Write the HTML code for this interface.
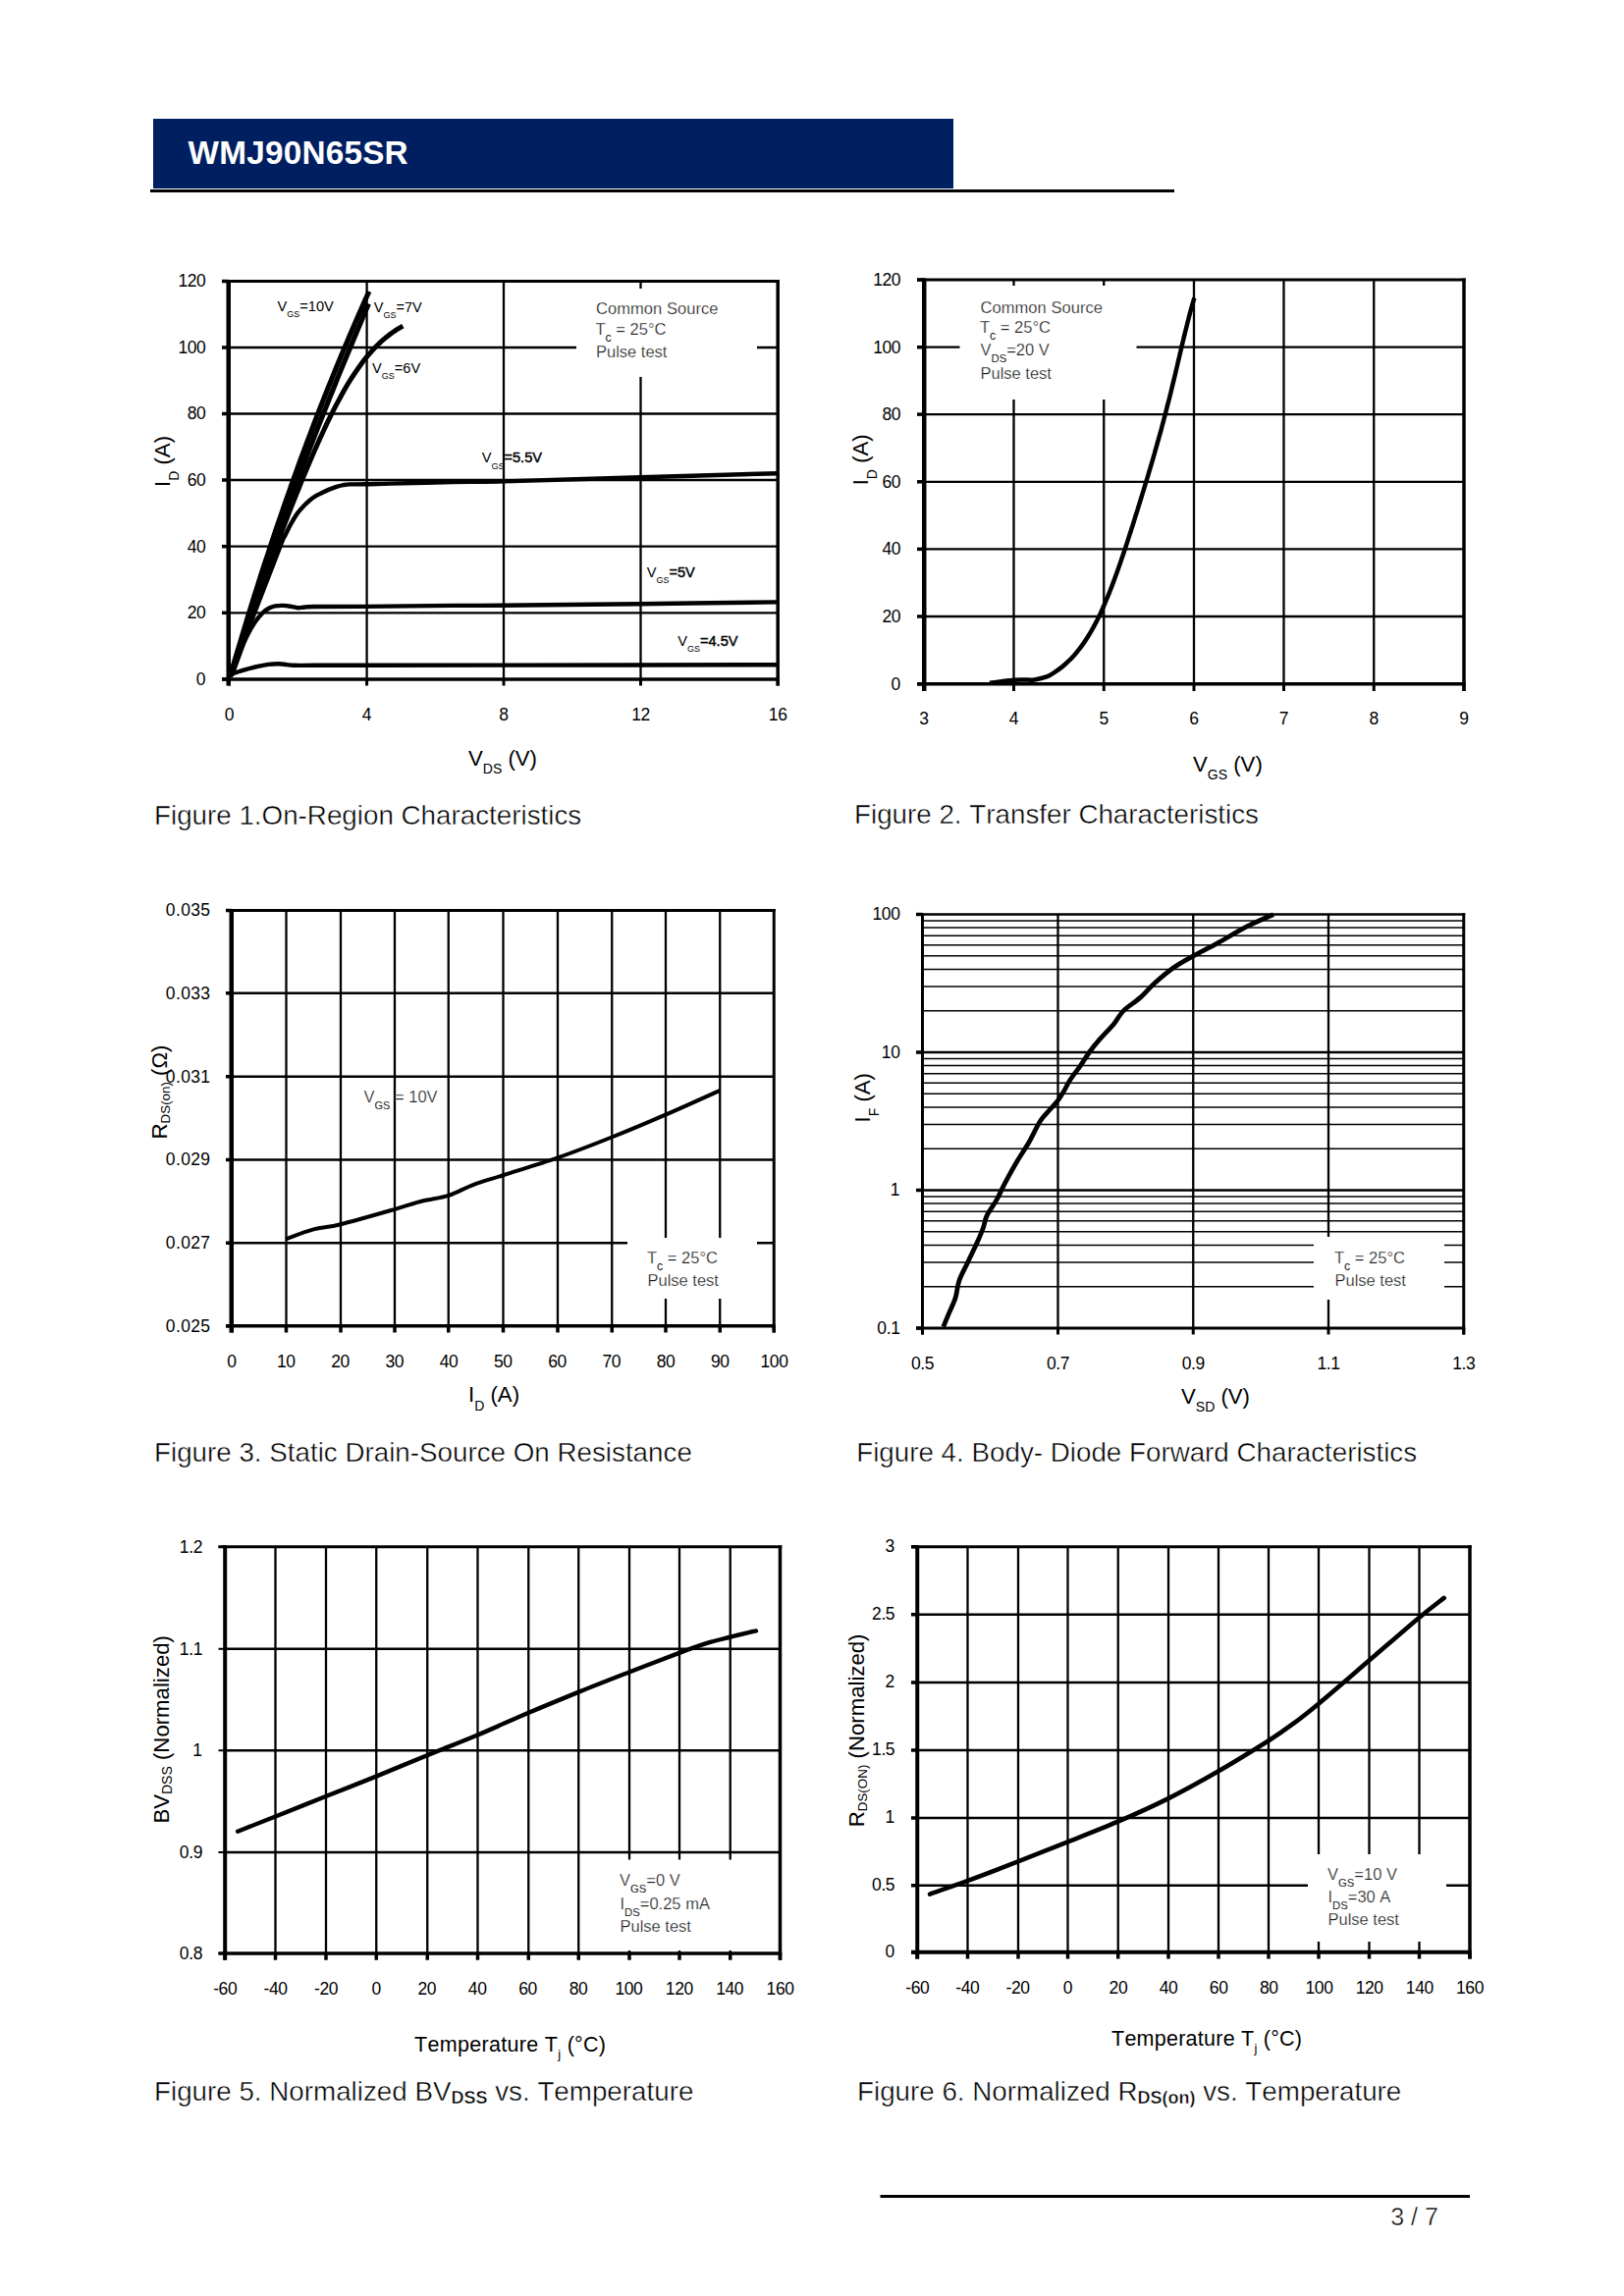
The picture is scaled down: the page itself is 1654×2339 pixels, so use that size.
<!DOCTYPE html>
<html lang="en"><head><meta charset="utf-8"><title>WMJ90N65SR</title>
<style>html,body{margin:0;padding:0;background:#fff;}svg{display:block;}text{font-family:"Liberation Sans",sans-serif;white-space:pre;font-kerning:none;font-variant-ligatures:none;}.t{stroke:#fff;stroke-width:0.45px;}.u{stroke:#fff;stroke-width:0.25px;}</style></head>
<body>
<svg width="1654" height="2339" viewBox="0 0 1654 2339" font-family='"Liberation Sans", sans-serif'>
<rect x="0.00" y="0.00" width="1654.00" height="2339.00" fill="#fff"/>
<rect x="156.00" y="121.00" width="815.00" height="71.00" fill="#001f60"/>
<line x1="153.00" y1="194.50" x2="1196.00" y2="194.50" stroke="#000" stroke-width="3" stroke-linecap="butt"/>
<text x="191.60" y="167.00" font-size="33.3" text-anchor="start" font-weight="bold" fill="#fff" letter-spacing="0.22">WMJ90N65SR</text>
<line x1="896.50" y1="2237.50" x2="1497.00" y2="2237.50" stroke="#000" stroke-width="3" stroke-linecap="butt"/>
<text class="t" x="1440.50" y="2267.00" font-size="25" text-anchor="middle" font-weight="normal" fill="#000">3 / 7</text>
<line x1="373.60" y1="286.50" x2="373.60" y2="691.90" stroke="#000" stroke-width="2.3" stroke-linecap="butt"/>
<line x1="513.00" y1="286.50" x2="513.00" y2="691.90" stroke="#000" stroke-width="2.3" stroke-linecap="butt"/>
<line x1="652.50" y1="286.50" x2="652.50" y2="691.90" stroke="#000" stroke-width="2.3" stroke-linecap="butt"/>
<line x1="232.75" y1="354.00" x2="792.20" y2="354.00" stroke="#000" stroke-width="2.3" stroke-linecap="butt"/>
<line x1="232.75" y1="421.50" x2="792.20" y2="421.50" stroke="#000" stroke-width="2.3" stroke-linecap="butt"/>
<line x1="232.75" y1="489.00" x2="792.20" y2="489.00" stroke="#000" stroke-width="2.3" stroke-linecap="butt"/>
<line x1="232.75" y1="556.70" x2="792.20" y2="556.70" stroke="#000" stroke-width="2.3" stroke-linecap="butt"/>
<line x1="232.75" y1="624.30" x2="792.20" y2="624.30" stroke="#000" stroke-width="2.3" stroke-linecap="butt"/>
<rect x="587.00" y="294.00" width="184.00" height="90.00" fill="#fff"/>
<path d="M234.5,688.8 L236.5,682.0 L238.4,675.2 L240.4,668.4 L242.4,661.7 L244.5,654.9 L246.5,648.1 L248.5,641.4 L250.6,634.6 L252.6,627.8 L254.7,621.1 L256.8,614.3 L258.9,607.6 L261.1,600.8 L263.2,594.1 L265.3,587.4 L267.5,580.6 L269.7,573.9 L271.9,567.2 L274.1,560.5 L276.3,553.8 L278.6,547.1 L280.8,540.4 L283.1,533.7 L285.4,527.0 L287.7,520.3 L290.0,513.6 L292.3,507.0 L294.7,500.3 L297.0,493.6 L299.4,487.0 L301.8,480.3 L304.2,473.7 L306.6,467.0 L309.1,460.4 L311.5,453.8 L314.0,447.2 L316.5,440.6 L319.0,434.0 L321.5,427.4 L324.1,420.8 L326.6,414.2 L329.2,407.6 L331.8,401.0 L334.4,394.5 L337.1,387.9 L339.7,381.4 L342.4,374.8 L345.1,368.3 L347.8,361.8 L350.5,355.2 L353.3,348.7 L356.0,342.2 L358.8,335.7 L361.6,329.2 L364.4,322.7 L367.3,316.3 L370.1,309.8 L373.0,303.3 L375.9,296.9" fill="none" stroke="#000" stroke-width="5.2" stroke-linecap="butt" stroke-linejoin="round"/>
<path d="M234.5,688.8 L236.5,682.2 L238.6,675.7 L240.6,669.1 L242.7,662.6 L244.8,656.0 L246.9,649.5 L249.0,643.0 L251.1,636.4 L253.2,629.9 L255.4,623.4 L257.6,616.9 L259.8,610.4 L261.9,603.9 L264.2,597.4 L266.4,590.9 L268.6,584.4 L270.9,577.9 L273.1,571.5 L275.4,565.0 L277.7,558.5 L280.0,552.0 L282.3,545.6 L284.6,539.1 L287.0,532.7 L289.3,526.2 L291.7,519.8 L294.0,513.4 L296.4,506.9 L298.8,500.5 L301.2,494.1 L303.6,487.6 L306.1,481.2 L308.5,474.8 L311.0,468.4 L313.4,462.0 L315.9,455.6 L318.4,449.2 L320.9,442.8 L323.4,436.4 L325.9,430.0 L328.4,423.7 L330.9,417.3 L333.5,410.9 L336.0,404.5 L338.6,398.2 L341.2,391.8 L343.7,385.4 L346.3,379.1 L348.9,372.7 L351.5,366.4 L354.2,360.0 L356.8,353.7 L359.4,347.4 L362.1,341.0 L364.7,334.7 L367.4,328.4 L370.0,322.0 L372.7,315.7 L375.4,309.4" fill="none" stroke="#000" stroke-width="5.2" stroke-linecap="butt" stroke-linejoin="round"/>
<path d="M234.5,688.8 L237.1,682.7 L239.6,676.5 L242.0,670.2 L244.3,663.8 L246.7,657.3 L249.0,650.8 L251.2,644.3 L253.4,637.8 L255.7,631.2 L257.9,624.7 L260.1,618.1 L262.3,611.5 L264.5,605.0 L266.7,598.4 L269.0,591.9 L271.2,585.4 L273.5,578.9 L275.8,572.5 L278.0,566.0 L280.4,559.6 L282.7,553.2 L285.1,546.8 L287.4,540.4 L289.8,534.1 L292.3,527.7 L294.7,521.4 L297.2,515.1 L299.7,508.8 L302.2,502.5 L304.8,496.2 L307.3,489.9 L309.9,483.6 L312.6,477.3 L315.2,471.0 L317.9,464.7 L320.6,458.5 L323.4,452.2 L326.2,445.9 L329.1,439.7 L332.0,433.4 L335.0,427.2 L338.1,421.0 L341.2,414.9 L344.4,408.8 L347.7,402.7 L351.0,396.7 L354.5,390.8 L358.1,385.0 L361.9,379.3 L365.8,373.7 L369.8,368.2 L374.1,362.9 L378.5,357.8 L383.2,352.8 L388.0,348.1 L393.2,343.7 L398.6,339.5 L404.3,335.7 L410.3,332.2" fill="none" stroke="#000" stroke-width="5.0" stroke-linecap="butt" stroke-linejoin="round"/>
<path d="M234.5,688.8 C238.7,677.9 251.2,645.3 259.7,623.3 C268.2,601.3 280.3,569.5 285.4,556.6 C290.5,543.7 288.4,549.7 290.2,545.9 C292.0,542.1 294.0,537.7 296.2,533.8 C298.4,529.9 300.8,525.8 303.1,522.6 C305.4,519.4 307.9,517.0 310.0,514.8 C312.1,512.6 314.0,510.8 316.0,509.2 C318.0,507.6 319.9,506.2 322.1,504.9 C324.3,503.6 326.7,502.6 329.0,501.5 C331.3,500.4 333.6,499.3 335.9,498.4 C338.2,497.5 340.5,496.6 342.8,495.9 C345.1,495.2 347.4,494.5 349.7,494.1 C352.0,493.7 352.9,493.5 356.6,493.4 C360.3,493.3 365.2,493.4 372.1,493.3 C379.0,493.2 383.0,493.0 397.9,492.6 C412.8,492.2 442.2,491.5 461.4,491.1 C480.6,490.7 481.2,491.2 513.0,490.4 C544.8,489.6 605.5,487.7 652.0,486.3 C698.5,484.9 768.7,482.9 792.0,482.2" fill="none" stroke="#000" stroke-width="4.4" stroke-linecap="butt" stroke-linejoin="round"/>
<path d="M234.5,688.8 C235.1,687.9 235.5,689.2 237.9,683.3 C240.3,677.3 245.5,661.3 249.1,653.1 C252.7,644.9 256.3,639.0 259.5,634.1 C262.7,629.2 265.7,626.2 268.1,623.8 C270.5,621.4 272.1,620.6 274.1,619.5 C276.1,618.4 277.8,617.7 280.2,617.3 C282.6,616.9 286.1,616.8 288.8,616.9 C291.5,617.0 294.2,617.5 296.6,617.9 C299.0,618.3 301.1,619.1 303.4,619.2 C305.7,619.3 307.6,618.7 310.3,618.5 C313.0,618.3 309.4,618.1 319.8,618.0 C330.2,617.9 349.2,618.1 372.8,617.9 C396.4,617.7 438.0,617.1 461.4,616.9 C484.8,616.7 481.2,617.0 513.0,616.7 C544.8,616.4 605.5,615.8 652.0,615.2 C698.5,614.7 768.7,613.7 792.0,613.4" fill="none" stroke="#000" stroke-width="4.4" stroke-linecap="butt" stroke-linejoin="round"/>
<path d="M234.5,688.8 C235.1,688.3 235.2,687.2 237.9,686.0 C240.6,684.8 246.6,683.0 250.9,681.8 C255.2,680.6 260.1,679.4 263.8,678.6 C267.5,677.8 270.0,677.3 273.3,676.9 C276.6,676.5 280.5,676.3 283.6,676.3 C286.8,676.3 289.6,676.9 292.2,677.1 C294.8,677.4 294.5,677.7 299.1,677.8 C303.7,677.9 307.7,677.8 320.0,677.8 C332.3,677.8 340.6,677.7 372.8,677.7 C405.0,677.7 443.1,677.7 513.0,677.6 C582.9,677.5 745.5,677.3 792.0,677.2" fill="none" stroke="#000" stroke-width="4.4" stroke-linecap="butt" stroke-linejoin="round"/>
<line x1="226.00" y1="286.50" x2="793.95" y2="286.50" stroke="#000" stroke-width="3" stroke-linecap="butt"/>
<line x1="226.00" y1="691.90" x2="793.95" y2="691.90" stroke="#000" stroke-width="3.5" stroke-linecap="butt"/>
<line x1="232.75" y1="285.00" x2="232.75" y2="698.50" stroke="#000" stroke-width="4.5" stroke-linecap="butt"/>
<line x1="792.20" y1="285.00" x2="792.20" y2="698.50" stroke="#000" stroke-width="3.5" stroke-linecap="butt"/>
<line x1="233.50" y1="691.90" x2="233.50" y2="698.50" stroke="#000" stroke-width="3" stroke-linecap="butt"/>
<line x1="373.60" y1="691.90" x2="373.60" y2="698.50" stroke="#000" stroke-width="3" stroke-linecap="butt"/>
<line x1="513.00" y1="691.90" x2="513.00" y2="698.50" stroke="#000" stroke-width="3" stroke-linecap="butt"/>
<line x1="652.50" y1="691.90" x2="652.50" y2="698.50" stroke="#000" stroke-width="3" stroke-linecap="butt"/>
<line x1="792.20" y1="691.90" x2="792.20" y2="698.50" stroke="#000" stroke-width="3" stroke-linecap="butt"/>
<line x1="226.00" y1="286.50" x2="232.75" y2="286.50" stroke="#000" stroke-width="3.5" stroke-linecap="butt"/>
<line x1="226.00" y1="354.00" x2="232.75" y2="354.00" stroke="#000" stroke-width="3.5" stroke-linecap="butt"/>
<line x1="226.00" y1="421.50" x2="232.75" y2="421.50" stroke="#000" stroke-width="3.5" stroke-linecap="butt"/>
<line x1="226.00" y1="489.00" x2="232.75" y2="489.00" stroke="#000" stroke-width="3.5" stroke-linecap="butt"/>
<line x1="226.00" y1="556.70" x2="232.75" y2="556.70" stroke="#000" stroke-width="3.5" stroke-linecap="butt"/>
<line x1="226.00" y1="624.30" x2="232.75" y2="624.30" stroke="#000" stroke-width="3.5" stroke-linecap="butt"/>
<line x1="226.00" y1="691.90" x2="232.75" y2="691.90" stroke="#000" stroke-width="3.5" stroke-linecap="butt"/>
<text x="233.50" y="734.30" font-size="17.5" text-anchor="middle" font-weight="normal" fill="#000">0</text>
<text x="373.60" y="734.30" font-size="17.5" text-anchor="middle" font-weight="normal" fill="#000">4</text>
<text x="513.00" y="734.30" font-size="17.5" text-anchor="middle" font-weight="normal" fill="#000">8</text>
<text x="652.50" y="734.30" font-size="17.5" text-anchor="middle" font-weight="normal" fill="#000" letter-spacing="-0.4">12</text>
<text x="792.20" y="734.30" font-size="17.5" text-anchor="middle" font-weight="normal" fill="#000" letter-spacing="-0.4">16</text>
<text x="209.40" y="292.30" font-size="17.5" text-anchor="end" font-weight="normal" fill="#000" letter-spacing="-0.4">120</text>
<text x="209.40" y="359.80" font-size="17.5" text-anchor="end" font-weight="normal" fill="#000" letter-spacing="-0.4">100</text>
<text x="209.40" y="427.30" font-size="17.5" text-anchor="end" font-weight="normal" fill="#000" letter-spacing="-0.4">80</text>
<text x="209.40" y="494.80" font-size="17.5" text-anchor="end" font-weight="normal" fill="#000" letter-spacing="-0.4">60</text>
<text x="209.40" y="562.50" font-size="17.5" text-anchor="end" font-weight="normal" fill="#000" letter-spacing="-0.4">40</text>
<text x="209.40" y="630.10" font-size="17.5" text-anchor="end" font-weight="normal" fill="#000" letter-spacing="-0.4">20</text>
<text x="209.40" y="697.70" font-size="17.5" text-anchor="end" font-weight="normal" fill="#000">0</text>
<text class="n" x="282.50" y="316.70" text-anchor="start" fill="#000"><tspan font-size="14.6" dy="0.00" font-weight="normal">V</tspan><tspan font-size="9" dy="6.30" font-weight="normal" stroke="none">GS</tspan><tspan font-size="14.6" dy="-6.30" font-weight="normal">=10V</tspan></text>
<text class="n" x="380.70" y="317.50" text-anchor="start" fill="#000"><tspan font-size="14.6" dy="0.00" font-weight="normal">V</tspan><tspan font-size="9" dy="6.30" font-weight="normal" stroke="none">GS</tspan><tspan font-size="14.6" dy="-6.30" font-weight="normal">=7V</tspan></text>
<text class="n" x="379.00" y="380.00" text-anchor="start" fill="#000"><tspan font-size="14.6" dy="0.00" font-weight="normal">V</tspan><tspan font-size="9" dy="6.30" font-weight="normal" stroke="none">GS</tspan><tspan font-size="14.6" dy="-6.30" font-weight="normal">=6V</tspan></text>
<text class="n" x="490.70" y="471.20" text-anchor="start" fill="#000"><tspan font-size="14.6" dy="0.00" font-weight="normal">V</tspan><tspan font-size="9" dy="6.30" font-weight="normal" stroke="none">GS</tspan><tspan font-size="14.6" dy="-6.30" stroke="#000" stroke-width="0.45">=5.5V</tspan></text>
<text class="n" x="658.70" y="587.50" text-anchor="start" fill="#000"><tspan font-size="14.6" dy="0.00" font-weight="normal">V</tspan><tspan font-size="9" dy="6.30" font-weight="normal" stroke="none">GS</tspan><tspan font-size="14.6" dy="-6.30" stroke="#000" stroke-width="0.45">=5V</tspan></text>
<text class="n" x="690.20" y="657.50" text-anchor="start" fill="#000"><tspan font-size="14.6" dy="0.00" font-weight="normal">V</tspan><tspan font-size="9" dy="6.30" font-weight="normal" stroke="none">GS</tspan><tspan font-size="14.6" dy="-6.30" stroke="#000" stroke-width="0.45">=4.5V</tspan></text>
<text class="u" x="607.00" y="319.60" font-size="16.5" text-anchor="start" font-weight="normal" fill="#1c1c1c" textLength="124.5" lengthAdjust="spacing">Common Source</text>
<text class="u" x="606.50" y="340.70" text-anchor="start" fill="#1c1c1c"><tspan font-size="16.5" dy="0.00" font-weight="normal">T</tspan><tspan font-size="12.3" dy="7.30" font-weight="normal" stroke="none">c</tspan><tspan font-size="16.5" dy="-7.30" font-weight="normal"> = 25°C</tspan></text>
<text class="u" x="607.00" y="363.80" font-size="16.5" text-anchor="start" font-weight="normal" fill="#1c1c1c">Pulse test</text>
<text class="n" x="477.00" y="780.00" text-anchor="start" fill="#000"><tspan font-size="22.2" dy="0.00" font-weight="normal">V</tspan><tspan font-size="14" dy="8.00" font-weight="normal" stroke="none">DS</tspan><tspan font-size="22.2" dy="-8.00" font-weight="normal"> (V)</tspan></text>
<text class="n" transform="translate(173.00,496.00) rotate(-90)" text-anchor="start" fill="#000"><tspan font-size="22.2" dy="0.00" font-weight="normal">I</tspan><tspan font-size="14" dy="9.00" font-weight="normal" stroke="none">D</tspan><tspan font-size="22.2" dy="-9.00" font-weight="normal"> (A)</tspan></text>
<text class="t" x="157.00" y="839.50" font-size="27.78" text-anchor="start" font-weight="normal" fill="#000">Figure 1.On-Region Characteristics</text>
<line x1="1032.50" y1="285.00" x2="1032.50" y2="696.75" stroke="#000" stroke-width="2.3" stroke-linecap="butt"/>
<line x1="1124.25" y1="285.00" x2="1124.25" y2="696.75" stroke="#000" stroke-width="2.3" stroke-linecap="butt"/>
<line x1="1216.00" y1="285.00" x2="1216.00" y2="696.75" stroke="#000" stroke-width="2.3" stroke-linecap="butt"/>
<line x1="1307.50" y1="285.00" x2="1307.50" y2="696.75" stroke="#000" stroke-width="2.3" stroke-linecap="butt"/>
<line x1="1399.25" y1="285.00" x2="1399.25" y2="696.75" stroke="#000" stroke-width="2.3" stroke-linecap="butt"/>
<line x1="941.25" y1="353.70" x2="1491.00" y2="353.70" stroke="#000" stroke-width="2.3" stroke-linecap="butt"/>
<line x1="941.25" y1="422.10" x2="1491.00" y2="422.10" stroke="#000" stroke-width="2.3" stroke-linecap="butt"/>
<line x1="941.25" y1="490.80" x2="1491.00" y2="490.80" stroke="#000" stroke-width="2.3" stroke-linecap="butt"/>
<line x1="941.25" y1="559.40" x2="1491.00" y2="559.40" stroke="#000" stroke-width="2.3" stroke-linecap="butt"/>
<line x1="941.25" y1="628.00" x2="1491.00" y2="628.00" stroke="#000" stroke-width="2.3" stroke-linecap="butt"/>
<rect x="977.50" y="291.00" width="180.00" height="116.00" fill="#fff"/>
<path d="M1008.0,695.8 C1010.0,695.5 1015.9,694.7 1020.0,694.2 C1024.2,693.7 1029.1,693.1 1032.9,692.8 C1036.7,692.5 1039.6,692.6 1043.0,692.5 C1046.4,692.4 1049.5,693.0 1053.5,692.4 C1057.5,691.8 1063.3,690.4 1066.8,689.1 C1070.3,687.8 1072.0,686.2 1074.4,684.6 C1076.9,683.0 1079.2,681.3 1081.4,679.6 C1083.7,677.8 1085.8,675.9 1087.8,673.9 C1089.9,672.0 1091.8,670.0 1093.7,667.9 C1095.6,665.8 1097.4,663.6 1099.1,661.4 C1100.8,659.2 1102.5,656.9 1104.1,654.6 C1105.7,652.3 1107.2,649.9 1108.7,647.5 C1110.2,645.1 1111.6,642.6 1113.0,640.1 C1114.4,637.7 1115.7,635.1 1117.0,632.6 C1118.3,630.0 1119.6,627.5 1120.8,624.9 C1122.0,622.3 1123.2,619.6 1124.3,617.0 C1125.5,614.4 1126.6,611.7 1127.7,609.0 C1128.8,606.4 1129.9,603.7 1130.9,601.0 C1132.0,598.3 1133.0,595.6 1134.0,592.9 C1135.1,590.1 1136.0,587.4 1137.0,584.7 C1138.0,582.0 1139.0,579.2 1139.9,576.5 C1140.9,573.8 1141.8,571.0 1142.7,568.3 C1143.7,565.6 1144.6,562.8 1145.5,560.1 C1146.4,557.4 1147.3,554.6 1148.2,551.9 C1149.1,549.2 1150.0,546.4 1150.8,543.7 C1151.7,541.0 1152.6,538.2 1153.5,535.5 C1154.3,532.8 1155.2,530.1 1156.0,527.3 C1156.9,524.6 1157.7,521.9 1158.6,519.2 C1159.4,516.5 1160.3,513.7 1161.1,511.0 C1162.0,508.3 1162.8,505.6 1163.6,502.9 C1164.5,500.2 1165.3,497.5 1166.1,494.7 C1166.9,492.0 1167.7,489.3 1168.6,486.6 C1169.4,483.9 1170.2,481.2 1171.0,478.4 C1171.8,475.7 1172.6,473.0 1173.4,470.3 C1174.2,467.5 1175.0,464.8 1175.8,462.1 C1176.5,459.4 1177.3,456.6 1178.1,453.9 C1178.9,451.1 1179.6,448.4 1180.4,445.7 C1181.2,442.9 1181.9,440.2 1182.7,437.4 C1183.4,434.6 1184.2,431.9 1184.9,429.1 C1185.6,426.3 1186.4,423.5 1187.1,420.8 C1187.8,418.0 1188.5,415.2 1189.2,412.4 C1190.0,409.6 1190.7,406.8 1191.4,404.0 C1192.1,401.2 1192.8,398.4 1193.4,395.6 C1194.1,392.7 1194.8,389.9 1195.5,387.1 C1196.2,384.3 1196.9,381.4 1197.5,378.6 C1198.2,375.8 1198.9,372.9 1199.5,370.1 C1200.2,367.2 1200.9,364.4 1201.5,361.6 C1202.2,358.7 1202.9,355.9 1203.5,353.1 C1204.2,350.2 1204.9,347.4 1205.5,344.6 C1206.2,341.8 1206.9,339.0 1207.6,336.2 C1208.3,333.4 1209.0,330.6 1209.7,327.8 C1210.4,325.1 1211.1,322.3 1211.8,319.6 C1212.5,316.8 1213.3,314.1 1214.0,311.5 C1214.8,308.8 1216.0,304.8 1216.4,303.5" fill="none" stroke="#000" stroke-width="4.5" stroke-linecap="butt" stroke-linejoin="round"/>
<line x1="934.00" y1="285.00" x2="1492.75" y2="285.00" stroke="#000" stroke-width="3" stroke-linecap="butt"/>
<line x1="934.00" y1="696.75" x2="1492.75" y2="696.75" stroke="#000" stroke-width="3.5" stroke-linecap="butt"/>
<line x1="941.25" y1="283.50" x2="941.25" y2="704.00" stroke="#000" stroke-width="4.5" stroke-linecap="butt"/>
<line x1="1491.00" y1="283.50" x2="1491.00" y2="704.00" stroke="#000" stroke-width="3.5" stroke-linecap="butt"/>
<line x1="941.00" y1="696.75" x2="941.00" y2="704.00" stroke="#000" stroke-width="3" stroke-linecap="butt"/>
<line x1="1032.50" y1="696.75" x2="1032.50" y2="704.00" stroke="#000" stroke-width="3" stroke-linecap="butt"/>
<line x1="1124.25" y1="696.75" x2="1124.25" y2="704.00" stroke="#000" stroke-width="3" stroke-linecap="butt"/>
<line x1="1216.00" y1="696.75" x2="1216.00" y2="704.00" stroke="#000" stroke-width="3" stroke-linecap="butt"/>
<line x1="1307.50" y1="696.75" x2="1307.50" y2="704.00" stroke="#000" stroke-width="3" stroke-linecap="butt"/>
<line x1="1399.25" y1="696.75" x2="1399.25" y2="704.00" stroke="#000" stroke-width="3" stroke-linecap="butt"/>
<line x1="1491.00" y1="696.75" x2="1491.00" y2="704.00" stroke="#000" stroke-width="3" stroke-linecap="butt"/>
<line x1="934.00" y1="285.00" x2="941.25" y2="285.00" stroke="#000" stroke-width="3.5" stroke-linecap="butt"/>
<line x1="934.00" y1="353.70" x2="941.25" y2="353.70" stroke="#000" stroke-width="3.5" stroke-linecap="butt"/>
<line x1="934.00" y1="422.10" x2="941.25" y2="422.10" stroke="#000" stroke-width="3.5" stroke-linecap="butt"/>
<line x1="934.00" y1="490.80" x2="941.25" y2="490.80" stroke="#000" stroke-width="3.5" stroke-linecap="butt"/>
<line x1="934.00" y1="559.40" x2="941.25" y2="559.40" stroke="#000" stroke-width="3.5" stroke-linecap="butt"/>
<line x1="934.00" y1="628.00" x2="941.25" y2="628.00" stroke="#000" stroke-width="3.5" stroke-linecap="butt"/>
<line x1="934.00" y1="696.75" x2="941.25" y2="696.75" stroke="#000" stroke-width="3.5" stroke-linecap="butt"/>
<text x="941.00" y="738.00" font-size="17.5" text-anchor="middle" font-weight="normal" fill="#000">3</text>
<text x="1032.50" y="738.00" font-size="17.5" text-anchor="middle" font-weight="normal" fill="#000">4</text>
<text x="1124.25" y="738.00" font-size="17.5" text-anchor="middle" font-weight="normal" fill="#000">5</text>
<text x="1216.00" y="738.00" font-size="17.5" text-anchor="middle" font-weight="normal" fill="#000">6</text>
<text x="1307.50" y="738.00" font-size="17.5" text-anchor="middle" font-weight="normal" fill="#000">7</text>
<text x="1399.25" y="738.00" font-size="17.5" text-anchor="middle" font-weight="normal" fill="#000">8</text>
<text x="1491.00" y="738.00" font-size="17.5" text-anchor="middle" font-weight="normal" fill="#000">9</text>
<text x="917.20" y="290.80" font-size="17.5" text-anchor="end" font-weight="normal" fill="#000" letter-spacing="-0.4">120</text>
<text x="917.20" y="359.50" font-size="17.5" text-anchor="end" font-weight="normal" fill="#000" letter-spacing="-0.4">100</text>
<text x="917.20" y="427.90" font-size="17.5" text-anchor="end" font-weight="normal" fill="#000" letter-spacing="-0.4">80</text>
<text x="917.20" y="496.60" font-size="17.5" text-anchor="end" font-weight="normal" fill="#000" letter-spacing="-0.4">60</text>
<text x="917.20" y="565.20" font-size="17.5" text-anchor="end" font-weight="normal" fill="#000" letter-spacing="-0.4">40</text>
<text x="917.20" y="633.80" font-size="17.5" text-anchor="end" font-weight="normal" fill="#000" letter-spacing="-0.4">20</text>
<text x="917.20" y="702.55" font-size="17.5" text-anchor="end" font-weight="normal" fill="#000">0</text>
<text class="u" x="998.50" y="318.75" font-size="16.5" text-anchor="start" font-weight="normal" fill="#1c1c1c" textLength="124.5" lengthAdjust="spacing">Common Source</text>
<text class="u" x="998.00" y="338.75" text-anchor="start" fill="#1c1c1c"><tspan font-size="16.5" dy="0.00" font-weight="normal">T</tspan><tspan font-size="12.3" dy="7.30" font-weight="normal" stroke="none">c</tspan><tspan font-size="16.5" dy="-7.30" font-weight="normal"> = 25°C</tspan></text>
<text class="u" x="998.50" y="362.00" text-anchor="start" fill="#1c1c1c"><tspan font-size="16.5" dy="0.00" font-weight="normal">V</tspan><tspan font-size="11.3" dy="7.00" font-weight="normal" stroke="none">DS</tspan><tspan font-size="16.5" dy="-7.00" font-weight="normal">=20 V</tspan></text>
<text class="u" x="998.50" y="385.75" font-size="16.5" text-anchor="start" font-weight="normal" fill="#1c1c1c">Pulse test</text>
<text class="n" x="1215.00" y="786.00" text-anchor="start" fill="#000"><tspan font-size="22.2" dy="0.00" font-weight="normal">V</tspan><tspan font-size="14" dy="8.00" font-weight="normal" stroke="none">GS</tspan><tspan font-size="22.2" dy="-8.00" font-weight="normal"> (V)</tspan></text>
<text class="n" transform="translate(884.00,494.30) rotate(-90)" text-anchor="start" fill="#000"><tspan font-size="22.2" dy="0.00" font-weight="normal">I</tspan><tspan font-size="14" dy="9.00" font-weight="normal" stroke="none">D</tspan><tspan font-size="22.2" dy="-9.00" font-weight="normal"> (A)</tspan></text>
<text class="t" x="870.00" y="839.40" font-size="27.78" text-anchor="start" font-weight="normal" fill="#000">Figure 2. Transfer Characteristics</text>
<line x1="291.50" y1="927.50" x2="291.50" y2="1350.75" stroke="#000" stroke-width="2.3" stroke-linecap="butt"/>
<line x1="347.00" y1="927.50" x2="347.00" y2="1350.75" stroke="#000" stroke-width="2.3" stroke-linecap="butt"/>
<line x1="402.00" y1="927.50" x2="402.00" y2="1350.75" stroke="#000" stroke-width="2.3" stroke-linecap="butt"/>
<line x1="456.75" y1="927.50" x2="456.75" y2="1350.75" stroke="#000" stroke-width="2.3" stroke-linecap="butt"/>
<line x1="512.50" y1="927.50" x2="512.50" y2="1350.75" stroke="#000" stroke-width="2.3" stroke-linecap="butt"/>
<line x1="568.00" y1="927.50" x2="568.00" y2="1350.75" stroke="#000" stroke-width="2.3" stroke-linecap="butt"/>
<line x1="623.25" y1="927.50" x2="623.25" y2="1350.75" stroke="#000" stroke-width="2.3" stroke-linecap="butt"/>
<line x1="678.00" y1="927.50" x2="678.00" y2="1350.75" stroke="#000" stroke-width="2.3" stroke-linecap="butt"/>
<line x1="733.25" y1="927.50" x2="733.25" y2="1350.75" stroke="#000" stroke-width="2.3" stroke-linecap="butt"/>
<line x1="235.75" y1="1011.75" x2="788.25" y2="1011.75" stroke="#000" stroke-width="2.3" stroke-linecap="butt"/>
<line x1="235.75" y1="1096.75" x2="788.25" y2="1096.75" stroke="#000" stroke-width="2.3" stroke-linecap="butt"/>
<line x1="235.75" y1="1181.50" x2="788.25" y2="1181.50" stroke="#000" stroke-width="2.3" stroke-linecap="butt"/>
<line x1="235.75" y1="1266.25" x2="788.25" y2="1266.25" stroke="#000" stroke-width="2.3" stroke-linecap="butt"/>
<rect x="639.00" y="1261.00" width="132.00" height="62.00" fill="#fff"/>
<path d="M290.9,1262.3 C295.6,1260.7 309.9,1254.9 319.3,1252.4 C328.7,1249.9 333.1,1250.6 347.0,1247.2 C360.9,1243.8 388.5,1235.8 402.4,1231.8 C416.2,1227.8 421.0,1225.8 430.1,1223.5 C439.2,1221.2 448.2,1220.7 456.9,1217.9 C465.6,1215.1 473.0,1210.3 482.4,1206.8 C491.8,1203.3 498.9,1201.6 513.2,1197.0 C527.5,1192.4 549.7,1185.8 568.0,1179.4 C586.3,1173.0 604.7,1165.8 623.1,1158.5 C641.5,1151.2 659.9,1143.4 678.3,1135.4 C696.7,1127.5 724.2,1114.9 733.4,1110.8" fill="none" stroke="#000" stroke-width="4.0" stroke-linecap="butt" stroke-linejoin="round"/>
<line x1="230.00" y1="927.50" x2="789.75" y2="927.50" stroke="#000" stroke-width="3" stroke-linecap="butt"/>
<line x1="230.00" y1="1350.75" x2="789.75" y2="1350.75" stroke="#000" stroke-width="3.5" stroke-linecap="butt"/>
<line x1="235.75" y1="926.00" x2="235.75" y2="1357.50" stroke="#000" stroke-width="4.5" stroke-linecap="butt"/>
<line x1="788.25" y1="926.00" x2="788.25" y2="1357.50" stroke="#000" stroke-width="3" stroke-linecap="butt"/>
<line x1="236.00" y1="1350.75" x2="236.00" y2="1357.50" stroke="#000" stroke-width="3.5" stroke-linecap="butt"/>
<line x1="291.50" y1="1350.75" x2="291.50" y2="1357.50" stroke="#000" stroke-width="3.5" stroke-linecap="butt"/>
<line x1="347.00" y1="1350.75" x2="347.00" y2="1357.50" stroke="#000" stroke-width="3.5" stroke-linecap="butt"/>
<line x1="402.00" y1="1350.75" x2="402.00" y2="1357.50" stroke="#000" stroke-width="3.5" stroke-linecap="butt"/>
<line x1="456.75" y1="1350.75" x2="456.75" y2="1357.50" stroke="#000" stroke-width="3.5" stroke-linecap="butt"/>
<line x1="512.50" y1="1350.75" x2="512.50" y2="1357.50" stroke="#000" stroke-width="3.5" stroke-linecap="butt"/>
<line x1="568.00" y1="1350.75" x2="568.00" y2="1357.50" stroke="#000" stroke-width="3.5" stroke-linecap="butt"/>
<line x1="623.25" y1="1350.75" x2="623.25" y2="1357.50" stroke="#000" stroke-width="3.5" stroke-linecap="butt"/>
<line x1="678.00" y1="1350.75" x2="678.00" y2="1357.50" stroke="#000" stroke-width="3.5" stroke-linecap="butt"/>
<line x1="733.25" y1="1350.75" x2="733.25" y2="1357.50" stroke="#000" stroke-width="3.5" stroke-linecap="butt"/>
<line x1="788.25" y1="1350.75" x2="788.25" y2="1357.50" stroke="#000" stroke-width="3.5" stroke-linecap="butt"/>
<line x1="230.00" y1="927.50" x2="235.75" y2="927.50" stroke="#000" stroke-width="3.5" stroke-linecap="butt"/>
<line x1="230.00" y1="1011.75" x2="235.75" y2="1011.75" stroke="#000" stroke-width="3.5" stroke-linecap="butt"/>
<line x1="230.00" y1="1096.75" x2="235.75" y2="1096.75" stroke="#000" stroke-width="3.5" stroke-linecap="butt"/>
<line x1="230.00" y1="1181.50" x2="235.75" y2="1181.50" stroke="#000" stroke-width="3.5" stroke-linecap="butt"/>
<line x1="230.00" y1="1266.25" x2="235.75" y2="1266.25" stroke="#000" stroke-width="3.5" stroke-linecap="butt"/>
<line x1="230.00" y1="1350.75" x2="235.75" y2="1350.75" stroke="#000" stroke-width="3.5" stroke-linecap="butt"/>
<text x="236.00" y="1393.30" font-size="17.5" text-anchor="middle" font-weight="normal" fill="#000">0</text>
<text x="291.25" y="1393.30" font-size="17.5" text-anchor="middle" font-weight="normal" fill="#000" letter-spacing="-0.4">10</text>
<text x="346.50" y="1393.30" font-size="17.5" text-anchor="middle" font-weight="normal" fill="#000" letter-spacing="-0.4">20</text>
<text x="401.75" y="1393.30" font-size="17.5" text-anchor="middle" font-weight="normal" fill="#000" letter-spacing="-0.4">30</text>
<text x="457.00" y="1393.30" font-size="17.5" text-anchor="middle" font-weight="normal" fill="#000" letter-spacing="-0.4">40</text>
<text x="512.25" y="1393.30" font-size="17.5" text-anchor="middle" font-weight="normal" fill="#000" letter-spacing="-0.4">50</text>
<text x="567.50" y="1393.30" font-size="17.5" text-anchor="middle" font-weight="normal" fill="#000" letter-spacing="-0.4">60</text>
<text x="622.75" y="1393.30" font-size="17.5" text-anchor="middle" font-weight="normal" fill="#000" letter-spacing="-0.4">70</text>
<text x="678.00" y="1393.30" font-size="17.5" text-anchor="middle" font-weight="normal" fill="#000" letter-spacing="-0.4">80</text>
<text x="733.25" y="1393.30" font-size="17.5" text-anchor="middle" font-weight="normal" fill="#000" letter-spacing="-0.4">90</text>
<text x="788.50" y="1393.30" font-size="17.5" text-anchor="middle" font-weight="normal" fill="#000" letter-spacing="-0.4">100</text>
<text x="214.40" y="933.30" font-size="17.5" text-anchor="end" font-weight="normal" fill="#000" letter-spacing="0.35">0.035</text>
<text x="214.40" y="1017.55" font-size="17.5" text-anchor="end" font-weight="normal" fill="#000" letter-spacing="0.35">0.033</text>
<text x="214.40" y="1102.55" font-size="17.5" text-anchor="end" font-weight="normal" fill="#000" letter-spacing="0.35">0.031</text>
<text x="214.40" y="1187.30" font-size="17.5" text-anchor="end" font-weight="normal" fill="#000" letter-spacing="0.35">0.029</text>
<text x="214.40" y="1272.05" font-size="17.5" text-anchor="end" font-weight="normal" fill="#000" letter-spacing="0.35">0.027</text>
<text x="214.40" y="1356.55" font-size="17.5" text-anchor="end" font-weight="normal" fill="#000" letter-spacing="0.35">0.025</text>
<text class="u" x="370.50" y="1123.00" text-anchor="start" fill="#1c1c1c"><tspan font-size="16.5" dy="0.00" font-weight="normal">V</tspan><tspan font-size="11" dy="6.60" font-weight="normal" stroke="none">GS</tspan><tspan font-size="16.5" dy="-6.60" font-weight="normal"> = 10V</tspan></text>
<text class="u" x="659.00" y="1286.75" text-anchor="start" fill="#1c1c1c"><tspan font-size="16.5" dy="0.00" font-weight="normal">T</tspan><tspan font-size="12.3" dy="7.30" font-weight="normal" stroke="none">c</tspan><tspan font-size="16.5" dy="-7.30" font-weight="normal"> = 25°C</tspan></text>
<text class="u" x="659.50" y="1309.50" font-size="16.5" text-anchor="start" font-weight="normal" fill="#1c1c1c">Pulse test</text>
<text class="n" x="477.00" y="1427.50" text-anchor="start" fill="#000"><tspan font-size="22.2" dy="0.00" font-weight="normal">I</tspan><tspan font-size="14" dy="9.00" font-weight="normal" stroke="none">D</tspan><tspan font-size="22.2" dy="-9.00" font-weight="normal"> (A)</tspan></text>
<text class="n" transform="translate(170.00,1160.50) rotate(-90)" text-anchor="start" fill="#000"><tspan font-size="22.2" dy="0.00" font-weight="normal">R</tspan><tspan font-size="13.4" dy="3.00" font-weight="normal" stroke="none">DS(on)</tspan><tspan font-size="22.2" dy="-3.00" font-weight="normal"> (Ω)</tspan></text>
<text class="t" x="157.00" y="1488.80" font-size="27.78" text-anchor="start" font-weight="normal" fill="#000">Figure 3. Static Drain-Source On Resistance</text>
<line x1="1077.50" y1="931.50" x2="1077.50" y2="1353.00" stroke="#000" stroke-width="2.3" stroke-linecap="butt"/>
<line x1="1215.25" y1="931.50" x2="1215.25" y2="1353.00" stroke="#000" stroke-width="2.3" stroke-linecap="butt"/>
<line x1="1353.00" y1="931.50" x2="1353.00" y2="1353.00" stroke="#000" stroke-width="2.3" stroke-linecap="butt"/>
<line x1="939.50" y1="1072.00" x2="1490.75" y2="1072.00" stroke="#000" stroke-width="2.3" stroke-linecap="butt"/>
<line x1="939.50" y1="1212.50" x2="1490.75" y2="1212.50" stroke="#000" stroke-width="2.3" stroke-linecap="butt"/>
<line x1="939.50" y1="1029.71" x2="1490.75" y2="1029.71" stroke="#000" stroke-width="1.5" stroke-linecap="butt"/>
<line x1="939.50" y1="1004.96" x2="1490.75" y2="1004.96" stroke="#000" stroke-width="1.5" stroke-linecap="butt"/>
<line x1="939.50" y1="987.41" x2="1490.75" y2="987.41" stroke="#000" stroke-width="1.5" stroke-linecap="butt"/>
<line x1="939.50" y1="973.79" x2="1490.75" y2="973.79" stroke="#000" stroke-width="1.5" stroke-linecap="butt"/>
<line x1="939.50" y1="962.67" x2="1490.75" y2="962.67" stroke="#000" stroke-width="1.5" stroke-linecap="butt"/>
<line x1="939.50" y1="953.26" x2="1490.75" y2="953.26" stroke="#000" stroke-width="1.5" stroke-linecap="butt"/>
<line x1="939.50" y1="945.12" x2="1490.75" y2="945.12" stroke="#000" stroke-width="1.5" stroke-linecap="butt"/>
<line x1="939.50" y1="937.93" x2="1490.75" y2="937.93" stroke="#000" stroke-width="1.5" stroke-linecap="butt"/>
<line x1="939.50" y1="1170.21" x2="1490.75" y2="1170.21" stroke="#000" stroke-width="1.5" stroke-linecap="butt"/>
<line x1="939.50" y1="1145.46" x2="1490.75" y2="1145.46" stroke="#000" stroke-width="1.5" stroke-linecap="butt"/>
<line x1="939.50" y1="1127.91" x2="1490.75" y2="1127.91" stroke="#000" stroke-width="1.5" stroke-linecap="butt"/>
<line x1="939.50" y1="1114.29" x2="1490.75" y2="1114.29" stroke="#000" stroke-width="1.5" stroke-linecap="butt"/>
<line x1="939.50" y1="1103.17" x2="1490.75" y2="1103.17" stroke="#000" stroke-width="1.5" stroke-linecap="butt"/>
<line x1="939.50" y1="1093.76" x2="1490.75" y2="1093.76" stroke="#000" stroke-width="1.5" stroke-linecap="butt"/>
<line x1="939.50" y1="1085.62" x2="1490.75" y2="1085.62" stroke="#000" stroke-width="1.5" stroke-linecap="butt"/>
<line x1="939.50" y1="1078.43" x2="1490.75" y2="1078.43" stroke="#000" stroke-width="1.5" stroke-linecap="butt"/>
<line x1="939.50" y1="1310.71" x2="1490.75" y2="1310.71" stroke="#000" stroke-width="1.5" stroke-linecap="butt"/>
<line x1="939.50" y1="1285.96" x2="1490.75" y2="1285.96" stroke="#000" stroke-width="1.5" stroke-linecap="butt"/>
<line x1="939.50" y1="1268.41" x2="1490.75" y2="1268.41" stroke="#000" stroke-width="1.5" stroke-linecap="butt"/>
<line x1="939.50" y1="1254.79" x2="1490.75" y2="1254.79" stroke="#000" stroke-width="1.5" stroke-linecap="butt"/>
<line x1="939.50" y1="1243.67" x2="1490.75" y2="1243.67" stroke="#000" stroke-width="1.5" stroke-linecap="butt"/>
<line x1="939.50" y1="1234.26" x2="1490.75" y2="1234.26" stroke="#000" stroke-width="1.5" stroke-linecap="butt"/>
<line x1="939.50" y1="1226.12" x2="1490.75" y2="1226.12" stroke="#000" stroke-width="1.5" stroke-linecap="butt"/>
<line x1="939.50" y1="1218.93" x2="1490.75" y2="1218.93" stroke="#000" stroke-width="1.5" stroke-linecap="butt"/>
<rect x="1338.00" y="1260.00" width="133.00" height="64.00" fill="#fff"/>
<path d="M1297.0,931.6 C1292.5,933.6 1279.4,939.1 1269.9,943.9 C1260.5,948.7 1249.3,955.6 1240.3,960.6 C1231.3,965.6 1223.1,969.6 1215.7,973.7 C1208.3,977.8 1202.6,980.7 1196.0,985.3 C1189.4,989.9 1182.0,996.2 1176.3,1001.3 C1170.5,1006.4 1166.8,1011.4 1161.5,1016.1 C1156.2,1020.8 1148.8,1025.1 1144.3,1029.6 C1139.8,1034.1 1138.5,1038.3 1134.4,1043.2 C1130.3,1048.1 1123.8,1054.5 1119.7,1059.2 C1115.6,1063.9 1113.1,1067.0 1109.8,1071.5 C1106.5,1076.0 1103.2,1081.6 1099.9,1086.3 C1096.6,1091.0 1092.8,1095.7 1090.1,1099.8 C1087.4,1103.9 1086.0,1107.4 1083.9,1110.9 C1081.9,1114.4 1080.2,1117.4 1077.8,1120.7 C1075.3,1124.0 1072.3,1126.9 1069.2,1130.5 C1066.1,1134.1 1062.8,1136.8 1059.3,1142.3 C1055.8,1147.8 1052.1,1156.5 1048.2,1163.3 C1044.3,1170.1 1040.0,1176.0 1035.9,1183.0 C1031.8,1190.0 1027.1,1198.5 1023.6,1205.1 C1020.1,1211.7 1018.1,1216.9 1015.0,1222.4 C1011.9,1228.0 1007.4,1233.7 1005.1,1238.4 C1002.8,1243.1 1003.0,1246.2 1001.4,1250.7 C999.8,1255.2 998.0,1259.5 995.3,1265.5 C992.6,1271.5 988.5,1279.8 985.4,1286.4 C982.3,1293.0 978.8,1299.0 976.8,1304.9 C974.8,1310.9 974.8,1316.8 973.1,1322.1 C971.5,1327.4 969.0,1332.0 966.9,1336.9 C964.8,1341.8 961.8,1349.2 960.8,1351.7" fill="none" stroke="#000" stroke-width="4.8" stroke-linecap="butt" stroke-linejoin="round"/>
<line x1="933.00" y1="931.50" x2="1492.25" y2="931.50" stroke="#000" stroke-width="2.5" stroke-linecap="butt"/>
<line x1="933.00" y1="1353.00" x2="1492.25" y2="1353.00" stroke="#000" stroke-width="3" stroke-linecap="butt"/>
<line x1="939.50" y1="930.25" x2="939.50" y2="1359.50" stroke="#000" stroke-width="3" stroke-linecap="butt"/>
<line x1="1490.75" y1="930.25" x2="1490.75" y2="1359.50" stroke="#000" stroke-width="3" stroke-linecap="butt"/>
<line x1="939.50" y1="1353.00" x2="939.50" y2="1359.50" stroke="#000" stroke-width="3" stroke-linecap="butt"/>
<line x1="1077.50" y1="1353.00" x2="1077.50" y2="1359.50" stroke="#000" stroke-width="3" stroke-linecap="butt"/>
<line x1="1215.25" y1="1353.00" x2="1215.25" y2="1359.50" stroke="#000" stroke-width="3" stroke-linecap="butt"/>
<line x1="1353.00" y1="1353.00" x2="1353.00" y2="1359.50" stroke="#000" stroke-width="3" stroke-linecap="butt"/>
<line x1="1490.75" y1="1353.00" x2="1490.75" y2="1359.50" stroke="#000" stroke-width="3" stroke-linecap="butt"/>
<line x1="933.00" y1="931.50" x2="939.50" y2="931.50" stroke="#000" stroke-width="3.5" stroke-linecap="butt"/>
<line x1="933.00" y1="1072.00" x2="939.50" y2="1072.00" stroke="#000" stroke-width="3.5" stroke-linecap="butt"/>
<line x1="933.00" y1="1212.50" x2="939.50" y2="1212.50" stroke="#000" stroke-width="3.5" stroke-linecap="butt"/>
<line x1="933.00" y1="1353.00" x2="939.50" y2="1353.00" stroke="#000" stroke-width="3.5" stroke-linecap="butt"/>
<text x="939.50" y="1395.00" font-size="17.5" text-anchor="middle" font-weight="normal" fill="#000" letter-spacing="-0.4">0.5</text>
<text x="1077.50" y="1395.00" font-size="17.5" text-anchor="middle" font-weight="normal" fill="#000" letter-spacing="-0.4">0.7</text>
<text x="1215.25" y="1395.00" font-size="17.5" text-anchor="middle" font-weight="normal" fill="#000" letter-spacing="-0.4">0.9</text>
<text x="1353.00" y="1395.00" font-size="17.5" text-anchor="middle" font-weight="normal" fill="#000" letter-spacing="-0.4">1.1</text>
<text x="1490.75" y="1395.00" font-size="17.5" text-anchor="middle" font-weight="normal" fill="#000" letter-spacing="-0.4">1.3</text>
<text x="916.50" y="937.30" font-size="17.5" text-anchor="end" font-weight="normal" fill="#000" letter-spacing="-0.4">100</text>
<text x="916.50" y="1077.80" font-size="17.5" text-anchor="end" font-weight="normal" fill="#000" letter-spacing="-0.4">10</text>
<text x="916.50" y="1218.30" font-size="17.5" text-anchor="end" font-weight="normal" fill="#000">1</text>
<text x="916.50" y="1358.80" font-size="17.5" text-anchor="end" font-weight="normal" fill="#000" letter-spacing="-0.4">0.1</text>
<text class="u" x="1359.00" y="1286.75" text-anchor="start" fill="#1c1c1c"><tspan font-size="16.5" dy="0.00" font-weight="normal">T</tspan><tspan font-size="12.3" dy="7.30" font-weight="normal" stroke="none">c</tspan><tspan font-size="16.5" dy="-7.30" font-weight="normal"> = 25°C</tspan></text>
<text class="u" x="1359.50" y="1309.50" font-size="16.5" text-anchor="start" font-weight="normal" fill="#1c1c1c">Pulse test</text>
<text class="n" x="1203.00" y="1430.00" text-anchor="start" fill="#000"><tspan font-size="22.2" dy="0.00" font-weight="normal">V</tspan><tspan font-size="14" dy="8.00" font-weight="normal" stroke="none">SD</tspan><tspan font-size="22.2" dy="-8.00" font-weight="normal"> (V)</tspan></text>
<text class="n" transform="translate(886.00,1143.50) rotate(-90)" text-anchor="start" fill="#000"><tspan font-size="22.2" dy="0.00" font-weight="normal">I</tspan><tspan font-size="14" dy="9.00" font-weight="normal" stroke="none">F</tspan><tspan font-size="22.2" dy="-9.00" font-weight="normal"> (A)</tspan></text>
<text class="t" x="872.20" y="1488.80" font-size="27.78" text-anchor="start" font-weight="normal" fill="#000">Figure 4. Body- Diode Forward Characteristics</text>
<line x1="280.50" y1="1575.75" x2="280.50" y2="1990.00" stroke="#000" stroke-width="2.3" stroke-linecap="butt"/>
<line x1="332.00" y1="1575.75" x2="332.00" y2="1990.00" stroke="#000" stroke-width="2.3" stroke-linecap="butt"/>
<line x1="383.25" y1="1575.75" x2="383.25" y2="1990.00" stroke="#000" stroke-width="2.3" stroke-linecap="butt"/>
<line x1="435.25" y1="1575.75" x2="435.25" y2="1990.00" stroke="#000" stroke-width="2.3" stroke-linecap="butt"/>
<line x1="486.50" y1="1575.75" x2="486.50" y2="1990.00" stroke="#000" stroke-width="2.3" stroke-linecap="butt"/>
<line x1="538.25" y1="1575.75" x2="538.25" y2="1990.00" stroke="#000" stroke-width="2.3" stroke-linecap="butt"/>
<line x1="589.25" y1="1575.75" x2="589.25" y2="1990.00" stroke="#000" stroke-width="2.3" stroke-linecap="butt"/>
<line x1="641.00" y1="1575.75" x2="641.00" y2="1990.00" stroke="#000" stroke-width="2.3" stroke-linecap="butt"/>
<line x1="692.00" y1="1575.75" x2="692.00" y2="1990.00" stroke="#000" stroke-width="2.3" stroke-linecap="butt"/>
<line x1="743.75" y1="1575.75" x2="743.75" y2="1990.00" stroke="#000" stroke-width="2.3" stroke-linecap="butt"/>
<line x1="229.20" y1="1679.75" x2="794.50" y2="1679.75" stroke="#000" stroke-width="2.3" stroke-linecap="butt"/>
<line x1="229.20" y1="1783.25" x2="794.50" y2="1783.25" stroke="#000" stroke-width="2.3" stroke-linecap="butt"/>
<line x1="229.20" y1="1887.00" x2="794.50" y2="1887.00" stroke="#000" stroke-width="2.3" stroke-linecap="butt"/>
<rect x="615.00" y="1894.50" width="150.00" height="92.50" fill="#fff"/>
<path d="M242.1,1865.7 C248.4,1863.2 265.1,1856.7 280.0,1850.7 C294.9,1844.8 314.6,1836.8 331.8,1830.0 C349.0,1823.2 366.0,1816.6 383.2,1809.6 C400.4,1802.6 417.8,1795.2 435.0,1788.2 C452.2,1781.2 469.2,1774.7 486.4,1767.5 C503.5,1760.3 520.7,1752.3 537.9,1745.0 C555.1,1737.7 572.4,1730.6 589.6,1723.6 C606.9,1716.6 624.2,1709.9 641.4,1703.2 C658.5,1696.5 679.4,1688.5 692.5,1683.6 C705.6,1678.7 711.4,1676.6 720.0,1673.9 C728.6,1671.2 736.0,1669.6 744.3,1667.5 C752.6,1665.4 765.7,1662.4 770.0,1661.4" fill="none" stroke="#000" stroke-width="4.4" stroke-linecap="round" stroke-linejoin="round"/>
<line x1="222.50" y1="1575.75" x2="796.25" y2="1575.75" stroke="#000" stroke-width="3" stroke-linecap="butt"/>
<line x1="222.50" y1="1990.00" x2="796.25" y2="1990.00" stroke="#000" stroke-width="3.5" stroke-linecap="butt"/>
<line x1="229.20" y1="1574.25" x2="229.20" y2="1996.75" stroke="#000" stroke-width="4" stroke-linecap="butt"/>
<line x1="794.50" y1="1574.25" x2="794.50" y2="1996.75" stroke="#000" stroke-width="3.5" stroke-linecap="butt"/>
<line x1="229.20" y1="1990.00" x2="229.20" y2="1996.75" stroke="#000" stroke-width="3.5" stroke-linecap="butt"/>
<line x1="280.50" y1="1990.00" x2="280.50" y2="1996.75" stroke="#000" stroke-width="3.5" stroke-linecap="butt"/>
<line x1="332.00" y1="1990.00" x2="332.00" y2="1996.75" stroke="#000" stroke-width="3.5" stroke-linecap="butt"/>
<line x1="383.25" y1="1990.00" x2="383.25" y2="1996.75" stroke="#000" stroke-width="3.5" stroke-linecap="butt"/>
<line x1="435.25" y1="1990.00" x2="435.25" y2="1996.75" stroke="#000" stroke-width="3.5" stroke-linecap="butt"/>
<line x1="486.50" y1="1990.00" x2="486.50" y2="1996.75" stroke="#000" stroke-width="3.5" stroke-linecap="butt"/>
<line x1="538.25" y1="1990.00" x2="538.25" y2="1996.75" stroke="#000" stroke-width="3.5" stroke-linecap="butt"/>
<line x1="589.25" y1="1990.00" x2="589.25" y2="1996.75" stroke="#000" stroke-width="3.5" stroke-linecap="butt"/>
<line x1="641.00" y1="1990.00" x2="641.00" y2="1996.75" stroke="#000" stroke-width="3.5" stroke-linecap="butt"/>
<line x1="692.00" y1="1990.00" x2="692.00" y2="1996.75" stroke="#000" stroke-width="3.5" stroke-linecap="butt"/>
<line x1="743.75" y1="1990.00" x2="743.75" y2="1996.75" stroke="#000" stroke-width="3.5" stroke-linecap="butt"/>
<line x1="794.50" y1="1990.00" x2="794.50" y2="1996.75" stroke="#000" stroke-width="3.5" stroke-linecap="butt"/>
<line x1="222.50" y1="1575.75" x2="229.20" y2="1575.75" stroke="#000" stroke-width="2" stroke-linecap="butt"/>
<line x1="222.50" y1="1679.75" x2="229.20" y2="1679.75" stroke="#000" stroke-width="2" stroke-linecap="butt"/>
<line x1="222.50" y1="1783.25" x2="229.20" y2="1783.25" stroke="#000" stroke-width="2" stroke-linecap="butt"/>
<line x1="222.50" y1="1887.00" x2="229.20" y2="1887.00" stroke="#000" stroke-width="2" stroke-linecap="butt"/>
<line x1="222.50" y1="1990.00" x2="229.20" y2="1990.00" stroke="#000" stroke-width="2" stroke-linecap="butt"/>
<text x="229.20" y="2031.70" font-size="17.5" text-anchor="middle" font-weight="normal" fill="#000" letter-spacing="-0.4">-60</text>
<text x="280.60" y="2031.70" font-size="17.5" text-anchor="middle" font-weight="normal" fill="#000" letter-spacing="-0.4">-40</text>
<text x="332.00" y="2031.70" font-size="17.5" text-anchor="middle" font-weight="normal" fill="#000" letter-spacing="-0.4">-20</text>
<text x="383.40" y="2031.70" font-size="17.5" text-anchor="middle" font-weight="normal" fill="#000">0</text>
<text x="434.80" y="2031.70" font-size="17.5" text-anchor="middle" font-weight="normal" fill="#000" letter-spacing="-0.4">20</text>
<text x="486.20" y="2031.70" font-size="17.5" text-anchor="middle" font-weight="normal" fill="#000" letter-spacing="-0.4">40</text>
<text x="537.60" y="2031.70" font-size="17.5" text-anchor="middle" font-weight="normal" fill="#000" letter-spacing="-0.4">60</text>
<text x="589.00" y="2031.70" font-size="17.5" text-anchor="middle" font-weight="normal" fill="#000" letter-spacing="-0.4">80</text>
<text x="640.40" y="2031.70" font-size="17.5" text-anchor="middle" font-weight="normal" fill="#000" letter-spacing="-0.4">100</text>
<text x="691.80" y="2031.70" font-size="17.5" text-anchor="middle" font-weight="normal" fill="#000" letter-spacing="-0.4">120</text>
<text x="743.20" y="2031.70" font-size="17.5" text-anchor="middle" font-weight="normal" fill="#000" letter-spacing="-0.4">140</text>
<text x="794.60" y="2031.70" font-size="17.5" text-anchor="middle" font-weight="normal" fill="#000" letter-spacing="-0.4">160</text>
<text x="206.00" y="1581.55" font-size="17.5" text-anchor="end" font-weight="normal" fill="#000" letter-spacing="-0.4">1.2</text>
<text x="206.00" y="1685.55" font-size="17.5" text-anchor="end" font-weight="normal" fill="#000" letter-spacing="-0.4">1.1</text>
<text x="206.00" y="1789.05" font-size="17.5" text-anchor="end" font-weight="normal" fill="#000">1</text>
<text x="206.00" y="1892.80" font-size="17.5" text-anchor="end" font-weight="normal" fill="#000" letter-spacing="-0.4">0.9</text>
<text x="206.00" y="1995.80" font-size="17.5" text-anchor="end" font-weight="normal" fill="#000" letter-spacing="-0.4">0.8</text>
<text class="u" x="631.00" y="1920.75" text-anchor="start" fill="#1c1c1c"><tspan font-size="16.5" dy="0.00" font-weight="normal">V</tspan><tspan font-size="11.3" dy="7.00" font-weight="normal" stroke="none">GS</tspan><tspan font-size="16.5" dy="-7.00" font-weight="normal">=0 V</tspan></text>
<text class="u" x="631.50" y="1945.00" text-anchor="start" fill="#1c1c1c"><tspan font-size="16.5" dy="0.00" font-weight="normal">I</tspan><tspan font-size="11.3" dy="7.00" font-weight="normal" stroke="none">DS</tspan><tspan font-size="16.5" dy="-7.00" font-weight="normal">=0.25 mA</tspan></text>
<text class="u" x="631.50" y="1967.50" font-size="16.5" text-anchor="start" font-weight="normal" fill="#1c1c1c">Pulse test</text>
<text class="n" x="422.00" y="2089.60" text-anchor="start" fill="#000" textLength="195" lengthAdjust="spacing"><tspan font-size="21.5" dy="0.00" font-weight="normal">Temperature T</tspan><tspan font-size="13" dy="7.00" font-weight="normal" stroke="none">j</tspan><tspan font-size="21.5" dy="-7.00" font-weight="normal"> (°C)</tspan></text>
<text class="n" transform="translate(172.00,1857.60) rotate(-90)" text-anchor="start" fill="#000"><tspan font-size="22.2" dy="0.00" font-weight="normal">BV</tspan><tspan font-size="14" dy="3.00" font-weight="normal" stroke="none">DSS</tspan><tspan font-size="22.2" dy="-3.00" font-weight="normal"> (Normalized)</tspan></text>
<text class="t" x="157.00" y="2139.60" text-anchor="start" fill="#000"><tspan font-size="27.78" dy="0.00" font-weight="normal">Figure 5. Normalized BV</tspan><tspan font-size="18" dy="3.50" font-weight="bold">DSS</tspan><tspan font-size="27.78" dy="-3.50" font-weight="normal"> vs. Temperature</tspan></text>
<line x1="985.50" y1="1575.75" x2="985.50" y2="1988.75" stroke="#000" stroke-width="2.3" stroke-linecap="butt"/>
<line x1="1037.00" y1="1575.75" x2="1037.00" y2="1988.75" stroke="#000" stroke-width="2.3" stroke-linecap="butt"/>
<line x1="1087.50" y1="1575.75" x2="1087.50" y2="1988.75" stroke="#000" stroke-width="2.3" stroke-linecap="butt"/>
<line x1="1138.75" y1="1575.75" x2="1138.75" y2="1988.75" stroke="#000" stroke-width="2.3" stroke-linecap="butt"/>
<line x1="1190.00" y1="1575.75" x2="1190.00" y2="1988.75" stroke="#000" stroke-width="2.3" stroke-linecap="butt"/>
<line x1="1241.00" y1="1575.75" x2="1241.00" y2="1988.75" stroke="#000" stroke-width="2.3" stroke-linecap="butt"/>
<line x1="1292.00" y1="1575.75" x2="1292.00" y2="1988.75" stroke="#000" stroke-width="2.3" stroke-linecap="butt"/>
<line x1="1343.00" y1="1575.75" x2="1343.00" y2="1988.75" stroke="#000" stroke-width="2.3" stroke-linecap="butt"/>
<line x1="1394.50" y1="1575.75" x2="1394.50" y2="1988.75" stroke="#000" stroke-width="2.3" stroke-linecap="butt"/>
<line x1="1445.50" y1="1575.75" x2="1445.50" y2="1988.75" stroke="#000" stroke-width="2.3" stroke-linecap="butt"/>
<line x1="934.25" y1="1644.75" x2="1497.00" y2="1644.75" stroke="#000" stroke-width="2.3" stroke-linecap="butt"/>
<line x1="934.25" y1="1714.00" x2="1497.00" y2="1714.00" stroke="#000" stroke-width="2.3" stroke-linecap="butt"/>
<line x1="934.25" y1="1783.00" x2="1497.00" y2="1783.00" stroke="#000" stroke-width="2.3" stroke-linecap="butt"/>
<line x1="934.25" y1="1852.00" x2="1497.00" y2="1852.00" stroke="#000" stroke-width="2.3" stroke-linecap="butt"/>
<line x1="934.25" y1="1920.75" x2="1497.00" y2="1920.75" stroke="#000" stroke-width="2.3" stroke-linecap="butt"/>
<rect x="1332.00" y="1889.00" width="141.00" height="89.00" fill="#fff"/>
<path d="M947.1,1929.6 C953.4,1927.3 970.0,1921.6 985.0,1916.1 C1000.0,1910.6 1019.6,1903.1 1036.8,1896.4 C1054.0,1889.7 1071.1,1882.9 1088.2,1876.1 C1105.3,1869.3 1122.3,1862.7 1139.3,1855.4 C1156.3,1848.1 1173.0,1840.6 1190.0,1832.1 C1207.0,1823.6 1224.1,1814.1 1241.1,1804.3 C1258.1,1794.5 1279.3,1781.3 1292.1,1773.2 C1304.9,1765.1 1309.4,1761.7 1317.9,1755.4 C1326.4,1749.2 1330.2,1746.2 1342.9,1735.7 C1355.6,1725.2 1376.9,1706.7 1393.9,1692.1 C1410.9,1677.5 1432.2,1658.9 1445.0,1648.2 C1457.8,1637.5 1466.4,1631.3 1470.7,1627.9" fill="none" stroke="#000" stroke-width="4.6" stroke-linecap="round" stroke-linejoin="round"/>
<line x1="928.00" y1="1575.75" x2="1498.75" y2="1575.75" stroke="#000" stroke-width="3" stroke-linecap="butt"/>
<line x1="928.00" y1="1988.75" x2="1498.75" y2="1988.75" stroke="#000" stroke-width="4" stroke-linecap="butt"/>
<line x1="934.25" y1="1574.25" x2="934.25" y2="1995.50" stroke="#000" stroke-width="4" stroke-linecap="butt"/>
<line x1="1497.00" y1="1574.25" x2="1497.00" y2="1995.50" stroke="#000" stroke-width="3.5" stroke-linecap="butt"/>
<line x1="934.25" y1="1988.75" x2="934.25" y2="1995.50" stroke="#000" stroke-width="3.5" stroke-linecap="butt"/>
<line x1="985.50" y1="1988.75" x2="985.50" y2="1995.50" stroke="#000" stroke-width="3.5" stroke-linecap="butt"/>
<line x1="1037.00" y1="1988.75" x2="1037.00" y2="1995.50" stroke="#000" stroke-width="3.5" stroke-linecap="butt"/>
<line x1="1087.50" y1="1988.75" x2="1087.50" y2="1995.50" stroke="#000" stroke-width="3.5" stroke-linecap="butt"/>
<line x1="1138.75" y1="1988.75" x2="1138.75" y2="1995.50" stroke="#000" stroke-width="3.5" stroke-linecap="butt"/>
<line x1="1190.00" y1="1988.75" x2="1190.00" y2="1995.50" stroke="#000" stroke-width="3.5" stroke-linecap="butt"/>
<line x1="1241.00" y1="1988.75" x2="1241.00" y2="1995.50" stroke="#000" stroke-width="3.5" stroke-linecap="butt"/>
<line x1="1292.00" y1="1988.75" x2="1292.00" y2="1995.50" stroke="#000" stroke-width="3.5" stroke-linecap="butt"/>
<line x1="1343.00" y1="1988.75" x2="1343.00" y2="1995.50" stroke="#000" stroke-width="3.5" stroke-linecap="butt"/>
<line x1="1394.50" y1="1988.75" x2="1394.50" y2="1995.50" stroke="#000" stroke-width="3.5" stroke-linecap="butt"/>
<line x1="1445.50" y1="1988.75" x2="1445.50" y2="1995.50" stroke="#000" stroke-width="3.5" stroke-linecap="butt"/>
<line x1="1497.00" y1="1988.75" x2="1497.00" y2="1995.50" stroke="#000" stroke-width="3.5" stroke-linecap="butt"/>
<line x1="928.00" y1="1575.75" x2="934.25" y2="1575.75" stroke="#000" stroke-width="3.5" stroke-linecap="butt"/>
<line x1="928.00" y1="1644.75" x2="934.25" y2="1644.75" stroke="#000" stroke-width="3.5" stroke-linecap="butt"/>
<line x1="928.00" y1="1714.00" x2="934.25" y2="1714.00" stroke="#000" stroke-width="3.5" stroke-linecap="butt"/>
<line x1="928.00" y1="1783.00" x2="934.25" y2="1783.00" stroke="#000" stroke-width="3.5" stroke-linecap="butt"/>
<line x1="928.00" y1="1852.00" x2="934.25" y2="1852.00" stroke="#000" stroke-width="3.5" stroke-linecap="butt"/>
<line x1="928.00" y1="1920.75" x2="934.25" y2="1920.75" stroke="#000" stroke-width="3.5" stroke-linecap="butt"/>
<line x1="928.00" y1="1988.75" x2="934.25" y2="1988.75" stroke="#000" stroke-width="3.5" stroke-linecap="butt"/>
<text x="934.25" y="2030.70" font-size="17.5" text-anchor="middle" font-weight="normal" fill="#000" letter-spacing="-0.4">-60</text>
<text x="985.41" y="2030.70" font-size="17.5" text-anchor="middle" font-weight="normal" fill="#000" letter-spacing="-0.4">-40</text>
<text x="1036.57" y="2030.70" font-size="17.5" text-anchor="middle" font-weight="normal" fill="#000" letter-spacing="-0.4">-20</text>
<text x="1087.73" y="2030.70" font-size="17.5" text-anchor="middle" font-weight="normal" fill="#000">0</text>
<text x="1138.89" y="2030.70" font-size="17.5" text-anchor="middle" font-weight="normal" fill="#000" letter-spacing="-0.4">20</text>
<text x="1190.05" y="2030.70" font-size="17.5" text-anchor="middle" font-weight="normal" fill="#000" letter-spacing="-0.4">40</text>
<text x="1241.21" y="2030.70" font-size="17.5" text-anchor="middle" font-weight="normal" fill="#000" letter-spacing="-0.4">60</text>
<text x="1292.37" y="2030.70" font-size="17.5" text-anchor="middle" font-weight="normal" fill="#000" letter-spacing="-0.4">80</text>
<text x="1343.53" y="2030.70" font-size="17.5" text-anchor="middle" font-weight="normal" fill="#000" letter-spacing="-0.4">100</text>
<text x="1394.69" y="2030.70" font-size="17.5" text-anchor="middle" font-weight="normal" fill="#000" letter-spacing="-0.4">120</text>
<text x="1445.85" y="2030.70" font-size="17.5" text-anchor="middle" font-weight="normal" fill="#000" letter-spacing="-0.4">140</text>
<text x="1497.01" y="2030.70" font-size="17.5" text-anchor="middle" font-weight="normal" fill="#000" letter-spacing="-0.4">160</text>
<text x="911.20" y="1580.95" font-size="17.5" text-anchor="end" font-weight="normal" fill="#000">3</text>
<text x="911.20" y="1649.95" font-size="17.5" text-anchor="end" font-weight="normal" fill="#000" letter-spacing="-0.4">2.5</text>
<text x="911.20" y="1719.20" font-size="17.5" text-anchor="end" font-weight="normal" fill="#000">2</text>
<text x="911.20" y="1788.20" font-size="17.5" text-anchor="end" font-weight="normal" fill="#000" letter-spacing="-0.4">1.5</text>
<text x="911.20" y="1857.20" font-size="17.5" text-anchor="end" font-weight="normal" fill="#000">1</text>
<text x="911.20" y="1925.95" font-size="17.5" text-anchor="end" font-weight="normal" fill="#000" letter-spacing="-0.4">0.5</text>
<text x="911.20" y="1993.95" font-size="17.5" text-anchor="end" font-weight="normal" fill="#000">0</text>
<text class="u" x="1352.00" y="1915.00" text-anchor="start" fill="#1c1c1c"><tspan font-size="16.5" dy="0.00" font-weight="normal">V</tspan><tspan font-size="11.3" dy="7.00" font-weight="normal" stroke="none">GS</tspan><tspan font-size="16.5" dy="-7.00" font-weight="normal">=10 V</tspan></text>
<text class="u" x="1352.50" y="1938.00" text-anchor="start" fill="#1c1c1c"><tspan font-size="16.5" dy="0.00" font-weight="normal">I</tspan><tspan font-size="11.3" dy="7.00" font-weight="normal" stroke="none">DS</tspan><tspan font-size="16.5" dy="-7.00" font-weight="normal">=30 A</tspan></text>
<text class="u" x="1352.50" y="1961.25" font-size="16.5" text-anchor="start" font-weight="normal" fill="#1c1c1c">Pulse test</text>
<text class="n" x="1132.00" y="2084.00" text-anchor="start" fill="#000" textLength="194" lengthAdjust="spacing"><tspan font-size="21.5" dy="0.00" font-weight="normal">Temperature T</tspan><tspan font-size="13" dy="7.00" font-weight="normal" stroke="none">j</tspan><tspan font-size="21.5" dy="-7.00" font-weight="normal"> (°C)</tspan></text>
<text class="n" transform="translate(880.00,1861.30) rotate(-90)" text-anchor="start" fill="#000"><tspan font-size="22.2" dy="0.00" font-weight="normal">R</tspan><tspan font-size="13.4" dy="3.00" font-weight="normal" stroke="none">DS(ON)</tspan><tspan font-size="22.2" dy="-3.00" font-weight="normal"> (Normalized)</tspan></text>
<text class="t" x="873.00" y="2139.80" text-anchor="start" fill="#000"><tspan font-size="27.78" dy="0.00" font-weight="normal">Figure 6. Normalized R</tspan><tspan font-size="18" dy="3.50" font-weight="bold">DS(on)</tspan><tspan font-size="27.78" dy="-3.50" font-weight="normal"> vs. Temperature</tspan></text>
</svg>
</body></html>
